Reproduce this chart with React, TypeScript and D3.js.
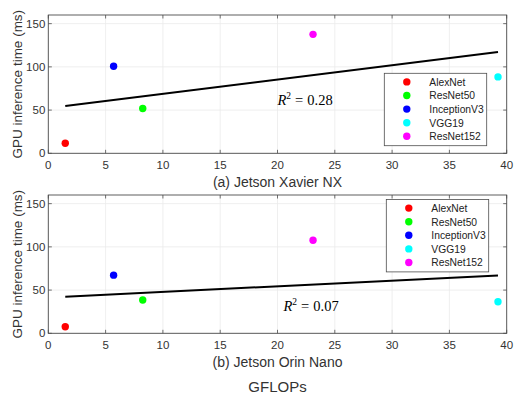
import React from "react";
import * as d3 from "d3";

const models = ["AlexNet", "ResNet50", "InceptionV3", "VGG19", "ResNet152"];
const colors = ["#ff0000", "#00ff00", "#0000ff", "#00ffff", "#ff00ff"];
const gflops = [1.48, 8.24, 5.7, 39.24, 23.1];
const xavierTimes = [11.6, 51.9, 100.7, 88.4, 137.6];
const orinTimes = [7.6, 38.5, 67.3, 36.5, 107.7];
const r2Labels = ["0.28", "0.07"];
const xTicks = [0, 5, 10, 15, 20, 25, 30, 35, 40];
const yTicks = [0, 50, 100, 150];

const W = 532;
const H = 399;
const left = 48.3;
const right = 506.7;
const sans = "'Liberation Sans', Arial, sans-serif";
const serif = "'Liberation Serif', 'Times New Roman', serif";
const axisColor = "#4d4d4d";

// least squares fit of time against GFLOPs
function fit(xs: number[], ys: number[]) {
  const mx = d3.mean(xs) as number;
  const my = d3.mean(ys) as number;
  let sxy = 0, sxx = 0;
  xs.forEach((x, i) => {
    sxy += (x - mx) * (ys[i] - my);
    sxx += (x - mx) ** 2;
  });
  const slope = sxy / sxx;
  return { slope, icpt: my - slope * mx };
}

type PanelProps = {
  top: number;
  bottom: number;
  times: number[];
  title: string;
  r2: string;
  legendBox: [number, number];
  r2Pos: [number, number];
};

const Panel = ({ top, bottom, times, title, r2, legendBox, r2Pos }: PanelProps) => {
  const x = d3.scaleLinear().domain([0, 40]).range([left, right]);
  const y = d3.scaleLinear().domain([0, 160]).range([bottom, top]);
  const f = fit(gflops, times);
  const ext = d3.extent(gflops) as [number, number];
  const line = d3
    .line<number>()
    .x((d) => x(d))
    .y((d) => y(f.icpt + f.slope * d));
  const [lx, ly] = legendBox;
  const rowH = 13.6;
  const tl = 3.5;
  return (
    <g>
      {xTicks.map((t) => (
        <line key={"gx" + t} x1={x(t)} x2={x(t)} y1={top} y2={bottom} stroke="#ebebeb" strokeWidth={0.8} />
      ))}
      {yTicks.map((t) => (
        <line key={"gy" + t} x1={left} x2={right} y1={y(t)} y2={y(t)} stroke="#ebebeb" strokeWidth={0.8} />
      ))}
      <rect x={left} y={top} width={right - left} height={bottom - top} fill="none" stroke={axisColor} strokeWidth={0.9} />
      {xTicks.map((t) => (
        <g key={"tx" + t}>
          <line x1={x(t)} x2={x(t)} y1={bottom} y2={bottom - tl} stroke={axisColor} strokeWidth={0.8} />
          <line x1={x(t)} x2={x(t)} y1={top} y2={top + tl} stroke={axisColor} strokeWidth={0.8} />
          <text x={x(t)} y={bottom + 15.5} textAnchor="middle" fontSize={11.5} fill="#333" fontFamily={sans}>
            {t}
          </text>
        </g>
      ))}
      {yTicks.map((t) => (
        <g key={"ty" + t}>
          <line x1={left} x2={left + tl} y1={y(t)} y2={y(t)} stroke={axisColor} strokeWidth={0.8} />
          <line x1={right} x2={right - tl} y1={y(t)} y2={y(t)} stroke={axisColor} strokeWidth={0.8} />
          <text x={left - 3} y={y(t) + 4} textAnchor="end" fontSize={11.5} fill="#333" fontFamily={sans}>
            {t}
          </text>
        </g>
      ))}
      <path d={line(ext) || ""} stroke="#000" strokeWidth={2} fill="none" />
      {gflops.map((g, i) => (
        <circle key={models[i]} cx={x(g)} cy={y(times[i])} r={3.7} fill={colors[i]} />
      ))}
      <text x={r2Pos[0]} y={r2Pos[1]} fontSize={14.5} fontFamily={serif} fill="#000">
        <tspan fontStyle="italic">R</tspan>
        <tspan fontSize={9.5} dy={-6}>2</tspan>
        <tspan dy={6} dx={4}>=</tspan>
        <tspan dx={4}>{r2}</tspan>
      </text>
      <rect x={lx} y={ly} width={102.4} height={72.4} fill="#fff" stroke={axisColor} strokeWidth={0.8} />
      {models.map((m, i) => (
        <g key={"lg" + m}>
          <circle cx={lx + 22.5} cy={ly + 8.6 + i * rowH} r={3.7} fill={colors[i]} />
          <text x={lx + 45} y={ly + 8.6 + i * rowH + 3.8} fontSize={10.3} fill="#222" fontFamily={sans}>
            {m}
          </text>
        </g>
      ))}
      <text x={(left + right) / 2} y={bottom + 34} textAnchor="middle" fontSize={14} fill="#333" fontFamily={sans}>
        {title}
      </text>
      <text
        transform={`translate(22,${(top + bottom) / 2}) rotate(-90)`}
        textAnchor="middle"
        fontSize={13.5}
        fill="#333"
        fontFamily={sans}
      >
        GPU inference time (ms)
      </text>
    </g>
  );
};

export default function App() {
  return (
    <svg width={W} height={H} style={{ position: "absolute", left: 0, top: 0, background: "#fff" }}>
      <Panel
        top={15}
        bottom={153.3}
        times={xavierTimes}
        title="(a) Jetson Xavier NX"
        r2={r2Labels[0]}
        legendBox={[384.3, 73.3]}
        r2Pos={[277.5, 105]}
      />
      <Panel
        top={195}
        bottom={333.3}
        times={orinTimes}
        title="(b) Jetson Orin Nano"
        r2={r2Labels[1]}
        legendBox={[386.3, 199.5]}
        r2Pos={[283.5, 310.5]}
      />
      <text x={(left + right) / 2} y={391.5} textAnchor="middle" fontSize={15} fill="#333" fontFamily={sans}>
        GFLOPs
      </text>
    </svg>
  );
}
